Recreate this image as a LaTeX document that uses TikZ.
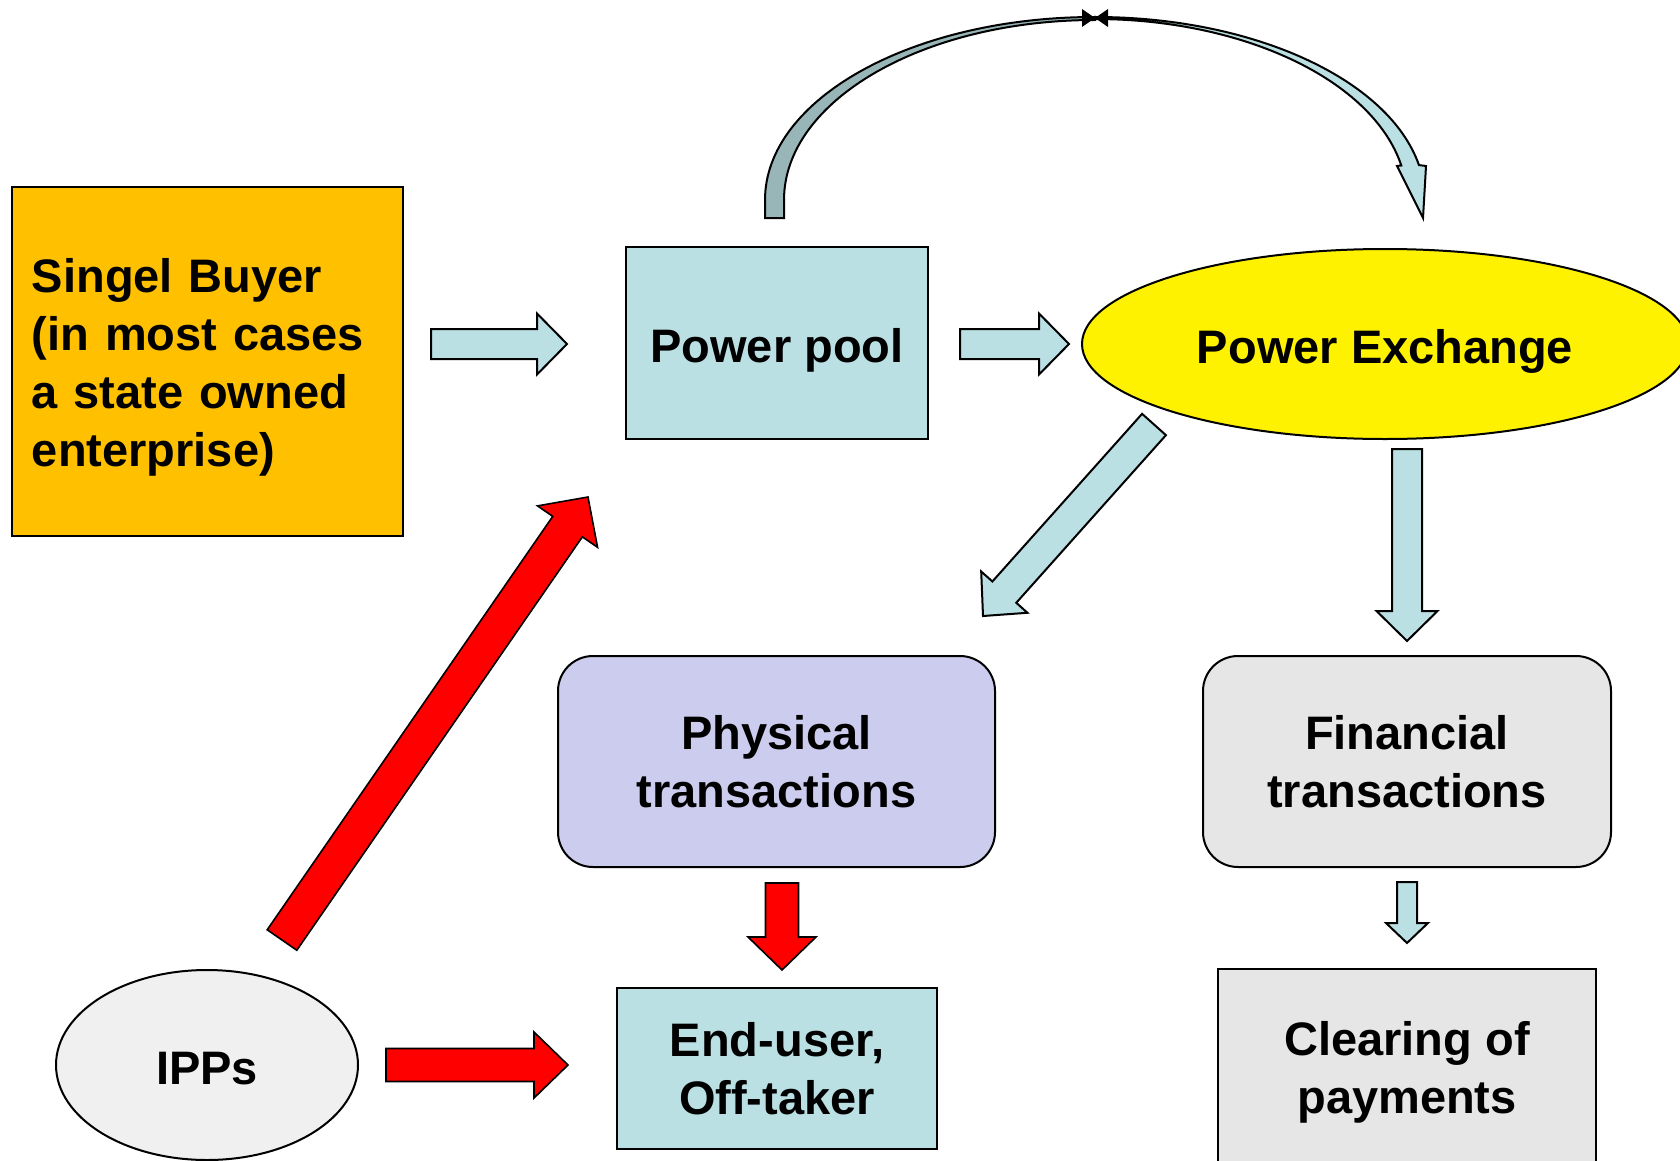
\documentclass[tikz,border=0pt]{standalone}
\usepackage{fontspec}
\setmainfont{Liberation Sans}
\usetikzlibrary{calc, shapes.geometric}

\definecolor{buyerorange}{HTML}{FFC000}
\definecolor{poolblue}{HTML}{BBE0E3}
\definecolor{physlilac}{HTML}{CCCCEE}
\definecolor{fingrey}{HTML}{E6E6E6}
\definecolor{ippgrey}{HTML}{F0F0F0}
\definecolor{arcgrey}{HTML}{98B6B8}

% #1 style, #2 tail, #3 tip, #4 half body, #5 half head, #6 head length
\newcommand{\blockarrow}[6]{%
  \coordinate (hb) at ($(#3)!#6!(#2)$);
  \draw[#1] ($(#2)!#4!90:(#3)$) -- ($(hb)!#4!90:(#3)$) -- ($(hb)!#5!90:(#3)$) -- (#3)
    -- ($(hb)!#5!-90:(#3)$) -- ($(hb)!#4!-90:(#3)$) -- ($(#2)!#4!-90:(#3)$) -- cycle;
}

\begin{document}
\begin{tikzpicture}[x=0.5pt, y=0.5pt,
    every node/.style={font=\fontsize{23.5}{29}\selectfont\bfseries},
    box/.style={draw, line width=1pt, inner sep=0pt},
    oneline/.style={text height=20pt, text depth=1pt},
    flow/.style={draw, line width=1pt, fill=poolblue},
    redflow/.style={draw, line width=0.8pt, fill=red}]

    \useasboundingbox (0,0) rectangle (1680,-1161);

    \node[box, fill=buyerorange, minimum width=195.5pt, minimum height=174.5pt, text width=175.5pt, inner xsep=10pt, align=left] (buyer) at (207.5,-361.5) {\rule{0pt}{23pt}Singel Buyer\\(in most cases\\a state owned\\enterprise)};
    \node[box, oneline, fill=poolblue, minimum width=151pt, minimum height=96pt] (pool) at (777,-343) {Power pool};
    \node[ellipse, oneline, draw, line width=1pt, fill=yellow, minimum width=303pt, minimum height=95pt, inner sep=0pt] (pex) at (1385,-344) {Power Exchange};
    \node[box, rounded corners=17.5pt, fill=physlilac, minimum width=218.5pt, minimum height=105.5pt, align=center] (phys) at (776.5,-761.5) {Physical\\transactions};
    \node[box, rounded corners=17.5pt, fill=fingrey, minimum width=204pt, minimum height=105.5pt, align=center] (fin) at (1407,-761.5) {Financial\\transactions};
    \node[box, fill=poolblue, minimum width=160pt, minimum height=80.5pt, align=center] (user) at (777,-1068.5) {End-user,\\Off-taker};
    \node[box, fill=fingrey, minimum width=189pt, minimum height=103pt, align=center] (clear) at (1407,-1072) {Clearing of\\payments};
    \node[ellipse, oneline, draw, line width=1pt, fill=ippgrey, minimum width=151pt, minimum height=95pt, inner sep=0pt] (ipp) at (207,-1065) {IPPs};

    % curved arrow over the top
    \coordinate (arc) at (1095,-200);
    \filldraw[line width=1pt, fill=arcgrey] (765,-218) -- (765,-200) arc[start angle=180, end angle=90, x radius=330, y radius=183]
        -- (1095,-20) arc[start angle=90, end angle=180, x radius=311, y radius=180] -- (784,-218) -- cycle;
    \filldraw[line width=1pt, fill=poolblue] (1095,-17) arc[start angle=90, end angle=11, x radius=330, y radius=183]
        -- (1426,-166) -- (1423,-218) -- (1397,-166) -- (1401.3,-165.5)
        arc[start angle=11, end angle=90, x radius=312, y radius=181] -- cycle;
    \fill (1082,-9) -- (arc |- 0,-18) -- (1082,-27) -- cycle;
    \fill (1108,-9) -- (arc |- 0,-18) -- (1108,-27) -- cycle;

    \coordinate (a) at (431,-344);
    \coordinate (b) at (567,-344);
    \coordinate (c) at (960,-344);
    \coordinate (d) at (1069,-344);
    \coordinate (e) at (1154,-424.5);
    \coordinate (f) at (983,-616);
    \coordinate (g) at (1407,-449);
    \coordinate (h) at (1407,-641);
    \coordinate (i) at (1407,-882);
    \coordinate (j) at (1407,-943);
    \coordinate (k) at (782,-883);
    \coordinate (l) at (782,-970);
    \coordinate (m) at (386,-1065);
    \coordinate (n) at (568,-1065);
    \coordinate (o) at (282,-940);
    \coordinate (p) at (588,-497);

    \blockarrow{flow}{a}{b}{7.5pt}{15.25pt}{15pt}
    \blockarrow{flow}{c}{d}{7.5pt}{15.25pt}{15pt}
    \blockarrow{flow}{e}{f}{8pt}{15.5pt}{16pt}
    \blockarrow{flow}{g}{h}{7.5pt}{15.25pt}{15pt}
    \blockarrow{flow}{i}{j}{5pt}{10.5pt}{10pt}
    \blockarrow{redflow}{k}{l}{8.25pt}{17pt}{16.5pt}
    \blockarrow{redflow}{m}{n}{8.25pt}{16.5pt}{17pt}
    \blockarrow{redflow}{o}{p}{9pt}{18.25pt}{18pt}

\end{tikzpicture}
\end{document}
